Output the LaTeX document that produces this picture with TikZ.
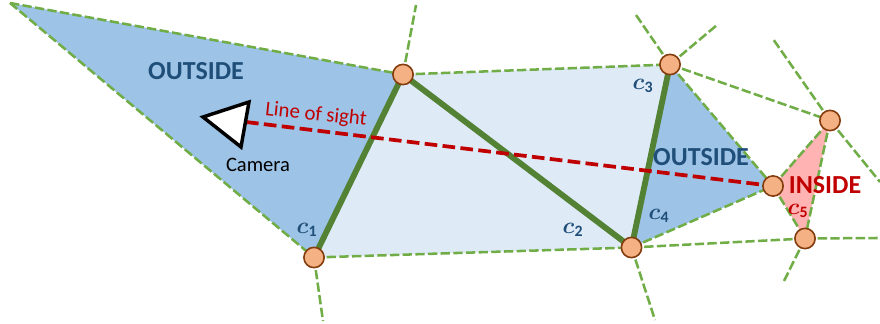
\documentclass[tikz,border=0pt]{standalone}
\usepackage{amsmath, amssymb}
\usepackage{fontspec}
\setmainfont{Carlito}
\usepackage{xcolor}
\usetikzlibrary{positioning}
\definecolor{cellblue}{HTML}{9DC3E6}
\definecolor{lightblue}{HTML}{DEEBF7}
\definecolor{insidepink}{HTML}{FFB3B3}
\definecolor{edgegreen}{HTML}{70AD47}
\definecolor{walldark}{HTML}{548235}
\definecolor{sightred}{HTML}{C00000}
\definecolor{textblue}{HTML}{1F4E79}
\definecolor{vertfill}{HTML}{F4B183}
\definecolor{vertdraw}{HTML}{843C0C}

\begin{document}
\begin{tikzpicture}[x=0.75pt, y=-0.75pt,
    vert/.style={circle, draw=vertdraw, fill=vertfill, line width=1.2pt, minimum size=15.2pt, inner sep=0pt},
    edge/.style={draw=edgegreen, line width=1.9pt, dash pattern=on 7pt off 2.5pt},
    wall/.style={draw=walldark, line width=4.4pt},
    sight/.style={draw=sightred, line width=2.8pt, dash pattern=on 9.5pt off 4pt},
    region/.style={font=\fontsize{19.5}{22}\selectfont\bfseries, inner sep=0pt},
    cell/.style={font=\fontsize{17}{19}\selectfont, text=textblue, inner sep=0pt}
]
\useasboundingbox (0,0) rectangle (880,324);

% vertices
\coordinate (V1) at (403,74.5);
\coordinate (V2) at (314,257.5);
\coordinate (V3) at (631.5,247.5);
\coordinate (V4) at (670,64.5);
\coordinate (V5) at (773,186);
\coordinate (V6) at (830,120.5);
\coordinate (V7) at (805,238.5);

% free ends of the edges
\coordinate (far) at (10,3);
\coordinate (E1) at (416,5);
\coordinate (E2) at (323,321);
\coordinate (E3) at (655,320);
\coordinate (E4a) at (636,15);
\coordinate (E4b) at (717,25);
\coordinate (E6a) at (773,39);
\coordinate (E6b) at (880,182);
\coordinate (E7a) at (783,283);
\coordinate (E7b) at (878,238);

% cells
\fill[lightblue] (V1) -- (V4) -- (V3) -- (V2) -- cycle;
\fill[cellblue] (far) -- (V1) -- (V2) -- cycle;
\fill[cellblue] (V4) -- (V5) -- (V3) -- cycle;
\fill[insidepink] (V5) -- (V6) -- (V7) -- cycle;

% dashed edges
\draw[edge] (far) -- (V1);
\draw[edge] (far) -- (V2);
\draw[edge] (V1) -- (E1);
\draw[edge] (V2) -- (E2);
\draw[edge] (V1) -- (V4);
\draw[edge] (V2) -- (V3);
\draw[edge] (V3) -- (E3);
\draw[edge] (V4) -- (E4a);
\draw[edge] (V4) -- (E4b);
\draw[edge] (V4) -- (V5);
\draw[edge] (V4) -- (V6);
\draw[edge] (V3) -- (V5);
\draw[edge] (V3) -- (V7);
\draw[edge] (V5) -- (V6);
\draw[edge] (V5) -- (V7);
\draw[edge] (V6) -- (V7);
\draw[edge] (V6) -- (E6a);
\draw[edge] (V6) -- (E6b);
\draw[edge] (V7) -- (E7a);
\draw[edge] (V7) -- (E7b);

% thick walls
\draw[wall] (V1) -- (V2);
\draw[wall] (V1) -- (V3);
\draw[wall] (V4) -- (V3);

% line of sight and camera
\coordinate (eye) at (246,122);
\draw[sight] (eye) -- (V5);
\draw[black, line width=2.6pt, fill=white, line join=miter] (203,117) -- (249,102) -- (241,147) -- cycle;

% vertex circles
\node[vert] (v1) at (V1) {};
\node[vert] (v2) at (V2) {};
\node[vert] (v3) at (V3) {};
\node[vert] (v4) at (V4) {};
\node[vert] (v5) at (V5) {};
\node[vert] (v6) at (V6) {};
\node[vert] (v7) at (V7) {};

% labels
\node[region, text=textblue] (out1) at (196,71) {OUTSIDE};
\node[region, text=textblue] (out2) at (701,157) {OUTSIDE};
\node[region, text=sightred] (ins) at (825,185) {INSIDE};
\node[font=\fontsize{15.4}{17}\selectfont] (cam) at (258,165) {Camera};
\node[font=\fontsize{15.6}{17}\selectfont, text=sightred, rotate=-6] (los) at (316,115) {Line of sight};
\node[cell] (c1) at (307,230) {$\boldsymbol{c}_{\mathbf{1}}$};
\node[cell] (c2) at (573,230) {$\boldsymbol{c}_{\mathbf{2}}$};
\node[cell] (c3) at (643,86) {$\boldsymbol{c}_{\mathbf{3}}$};
\node[cell] (c4) at (659,216) {$\boldsymbol{c}_{\mathbf{4}}$};
\node[cell, text=sightred] (c5) at (798,211) {$\boldsymbol{c}_{\mathbf{5}}$};

\end{tikzpicture}
\end{document}
